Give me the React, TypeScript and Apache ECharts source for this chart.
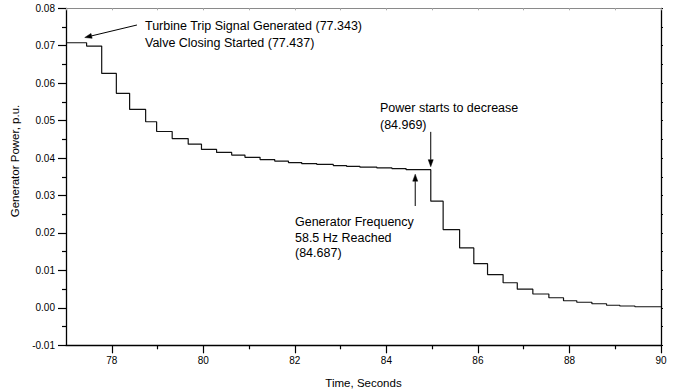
import React, { useEffect, useRef } from "react";
import * as echarts from "echarts";

// Step start times (s) and generator power (p.u.) held from each time
const stepTimes = [
  77.0, 77.45, 77.78, 78.1, 78.39, 78.74, 78.98, 79.32, 79.67, 79.96, 80.29, 80.62, 80.91,
  81.24, 81.56, 81.86, 82.15, 82.48, 82.84, 83.13, 83.42, 83.79, 84.12, 84.43, 84.97, 85.24,
  85.6, 85.91, 86.21, 86.55, 86.86, 87.2, 87.55, 87.87, 88.16, 88.49, 88.81, 89.1, 89.43, 90.0,
];
const powerValues = [
  0.0708, 0.0699, 0.0626, 0.0573, 0.053, 0.0497, 0.0471, 0.0452, 0.0437, 0.0423, 0.0415, 0.0408,
  0.0402, 0.0396, 0.0392, 0.0388, 0.0385, 0.0383, 0.038, 0.0378, 0.0376, 0.0374, 0.0372, 0.0369,
  0.0285, 0.0209, 0.016, 0.0118, 0.0089, 0.0067, 0.005, 0.0037, 0.0027, 0.0019, 0.0015, 0.0011,
  0.0007, 0.0005, 0.0003, 0.0003,
];

const xLabelValues = [78, 80, 82, 84, 86, 88, 90];
const xMinorValues = [79, 81, 83, 85, 87, 89];
const xAxisTitle = "Time, Seconds";
const yAxisTitle = "Generator Power, p.u.";

const annotations = [
  {
    lines: ["Turbine Trip Signal Generated (77.343)", "Valve Closing Started (77.437)"],
    textAt: [78.726, 0.07761],
    lineHeight: 17.5,
    tail: [78.55, 0.07554],
    tip: [77.41, 0.0722],
  },
  {
    lines: ["Power starts to decrease", "(84.969)"],
    textAt: [83.86, 0.05576],
    lineHeight: 17,
    tail: [84.969, 0.047],
    tip: [84.969, 0.0377],
  },
  {
    lines: ["Generator Frequency", "58.5 Hz Reached", "(84.687)"],
    textAt: [82.003, 0.02507],
    lineHeight: 15.8,
    tail: [84.63, 0.0272],
    tip: [84.63, 0.0357],
  },
];

const FONT = "'Liberation Sans', Arial, Helvetica, sans-serif";

function arrowHead(tail: number[], tip: number[], len = 7, hw = 2.5) {
  const dx = tip[0] - tail[0];
  const dy = tip[1] - tail[1];
  const L = Math.hypot(dx, dy) || 1;
  const ux = dx / L;
  const uy = dy / L;
  const bx = tip[0] - ux * len;
  const by = tip[1] - uy * len;
  return {
    base: [bx, by],
    points: [
      [tip[0], tip[1]],
      [bx - uy * hw, by + ux * hw],
      [bx + uy * hw, by - ux * hw],
    ],
  };
}

export default function App() {
  const ref = useRef<HTMLDivElement>(null);

  useEffect(() => {
    if (!ref.current) return;
    const chart = echarts.init(ref.current, null, { renderer: "svg" });
    const seriesData = stepTimes.map((t, i) => [t, powerValues[i]]);

    chart.setOption({
      animation: false,
      backgroundColor: "#fff",
      grid: { left: 66, right: 14, top: 8.3, bottom: 46.7, containLabel: false },
      xAxis: [
        {
          type: "value",
          position: "bottom",
          min: 77,
          max: 90,
          interval: 1,
          axisLine: { show: true, onZero: false, lineStyle: { color: "#000", width: 1.3 } },
          axisTick: { show: true, length: 8, customValues: xLabelValues, lineStyle: { color: "#000", width: 1.2 } },
          axisLabel: {
            show: true,
            customValues: xLabelValues,
            margin: 10,
            color: "#000",
            fontSize: 10,
            fontFamily: FONT,
            formatter: (v: number) => String(v),
          },
          splitLine: { show: false },
        },
        {
          type: "value",
          position: "bottom",
          min: 77,
          max: 90,
          interval: 1,
          axisLine: { show: false, onZero: false },
          axisTick: { show: true, length: 4, customValues: xMinorValues, lineStyle: { color: "#000", width: 1.2 } },
          axisLabel: { show: false },
          splitLine: { show: false },
        },
        {
          type: "value",
          position: "top",
          min: 77,
          max: 90,
          interval: 1,
          axisLine: { show: true, onZero: false, lineStyle: { color: "#8a8a8a", width: 1.2 } },
          axisTick: { show: true, inside: true, length: 2, lineStyle: { color: "#aaa", width: 1 } },
          axisLabel: { show: false },
          splitLine: { show: false },
        },
      ],
      yAxis: [
        {
          type: "value",
          position: "left",
          min: -0.01,
          max: 0.08,
          interval: 0.01,
          axisLine: { show: true, onZero: false, lineStyle: { color: "#000", width: 1.3 } },
          axisTick: { show: true, length: 8, lineStyle: { color: "#000", width: 1.2 } },
          minorTick: { show: true, splitNumber: 2, length: 4, lineStyle: { color: "#000", width: 1.2 } },
          axisLabel: {
            margin: 11,
            color: "#000",
            fontSize: 10,
            fontFamily: FONT,
            formatter: (v: number) => v.toFixed(2),
          },
          splitLine: { show: false },
        },
        {
          type: "value",
          position: "right",
          min: -0.01,
          max: 0.08,
          interval: 0.005,
          axisLine: { show: true, onZero: false, lineStyle: { color: "#000", width: 1.3 } },
          axisTick: { show: true, length: 2, lineStyle: { color: "#000", width: 1.2 } },
          axisLabel: { show: false },
          splitLine: { show: false },
        },
      ],
      series: [
        {
          type: "line",
          xAxisIndex: 0,
          yAxisIndex: 0,
          step: "end",
          data: seriesData,
          showSymbol: false,
          symbol: "none",
          lineStyle: { color: "#111", width: 1.2 },
          silent: true,
        },
      ],
    });

    const px = (p: number[]) =>
      chart.convertToPixel({ xAxisIndex: 0, yAxisIndex: 0 }, p) as number[];

    const graphics: any[] = [];
    annotations.forEach((a) => {
      const t = px(a.textAt);
      graphics.push({
        type: "text",
        x: t[0],
        y: t[1],
        silent: true,
        style: {
          text: a.lines.join("\n"),
          fill: "#000",
          font: `12.5px ${FONT}`,
          fontSize: 12.5,
          fontFamily: FONT,
          lineHeight: a.lineHeight,
          textAlign: "left",
          textVerticalAlign: "top",
        },
      });
      const tail = px(a.tail);
      const tip = px(a.tip);
      const head = arrowHead(tail, tip);
      graphics.push({
        type: "line",
        silent: true,
        shape: { x1: tail[0], y1: tail[1], x2: head.base[0], y2: head.base[1] },
        style: { stroke: "#000", lineWidth: 1 },
      });
      graphics.push({
        type: "polygon",
        silent: true,
        shape: { points: head.points },
        style: { fill: "#000", stroke: "#000", lineWidth: 0.5 },
      });
    });

    graphics.push({
      type: "text",
      x: 15,
      y: 161,
      rotation: Math.PI / 2,
      silent: true,
      style: {
        text: yAxisTitle,
        fill: "#000",
        fontSize: 11.5,
        fontFamily: FONT,
        textAlign: "center",
        textVerticalAlign: "middle",
      },
    });
    graphics.push({
      type: "text",
      x: 363.5,
      y: 383.3,
      silent: true,
      style: {
        text: xAxisTitle,
        fill: "#000",
        fontSize: 11.5,
        fontFamily: FONT,
        textAlign: "center",
        textVerticalAlign: "middle",
      },
    });

    chart.setOption({ graphic: graphics });

    return () => chart.dispose();
  }, []);

  return (
    <div
      ref={ref}
      style={{ position: "fixed", left: 0, top: 0, width: 675, height: 392, background: "#fff" }}
    />
  );
}
